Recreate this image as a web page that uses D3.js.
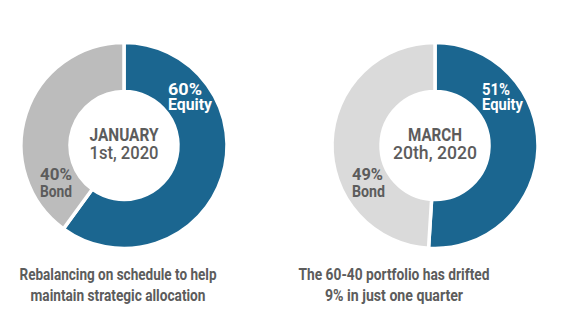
<!DOCTYPE html>
<html>
<head>
<meta charset="utf-8">
<script src="https://cdn.jsdelivr.net/npm/d3@7"></script>
<style>
  html, body { margin: 0; padding: 0; background: #fff; }
  svg { display: block; }
  text { font-family: "Roboto", "DejaVu Sans Condensed", sans-serif; }
</style>
</head>
<body>
<svg id="chart" width="587" height="328"></svg>
<script>
// ---- data ----
const dateLine1 = ["JANUARY", "MARCH"];
const dateLine2 = ["1st, 2020", "20th, 2020"];
const equityPct = [60, 51];
const bondPct = [40, 49];
const sliceNames = ["Equity", "Bond"];
const captionLine1 = ["Rebalancing on schedule to help", "The 60-40 portfolio has drifted"];
const captionLine2 = ["maintain strategic allocation", "9% in just one quarter"];

// ---- layout ----
const svg = d3.select("#chart");
const centers = [[124, 145.5], [435, 145.5]];
const outerR = 103, innerR = 54;
const equityColor = "#1b6690";
const bondColors = ["#bcbcbc", "#dadada"];
const textGray = "#5c5c5c";

const dateW1 = [69, 54], dateW2 = [69, 84];
const pctW = [[34, 32], [28, 31]];
const nameW = [[44, 32], [41, 33]];
const capCenters = [118, 394];
const capW1 = [197, 191], capW2 = [175, 138];

// label offsets from donut centre (x start, baseline of pct line, baseline of name line)
const labelPos = [
  [[44, -50.5, -36], [-84, 34.5, 51.5]],
  [[47, -50.5, -36], [-83, 34.5, 51.5]]
];

const pie = d3.pie().sort(null).value(d => d.v);
const arc = d3.arc().innerRadius(innerR).outerRadius(outerR);

function fit(sel, w) {
  return sel.attr("textLength", w).attr("lengthAdjust", "spacingAndGlyphs");
}

centers.forEach((c, i) => {
  const g = svg.append("g").attr("transform", `translate(${c[0]},${c[1]})`);
  const data = [
    { name: sliceNames[0], v: equityPct[i], color: equityColor, txt: "#fff" },
    { name: sliceNames[1], v: bondPct[i], color: bondColors[i], txt: textGray }
  ];
  const arcs = pie(data);
  g.selectAll("path").data(arcs).enter().append("path")
    .attr("d", arc)
    .attr("fill", d => d.data.color)
    .attr("stroke", "#fff")
    .attr("stroke-width", 3.5);

  arcs.forEach((a, k) => {
    const p = labelPos[i][k];
    const t = g.append("g")
      .attr("fill", a.data.txt)
      .attr("font-size", 16)
      .attr("font-weight", 700);
    fit(t.append("text").attr("x", p[0]).attr("y", p[1]).text(a.data.v + "%"), pctW[i][k]);
    fit(t.append("text").attr("x", p[0]).attr("y", p[2]).text(a.data.name), nameW[i][k]);
  });

  const ct = g.append("g")
    .attr("fill", textGray)
    .attr("font-size", 18)
    .attr("font-weight", 700);
  fit(ct.append("text").attr("text-anchor", "middle").attr("x", 0).attr("y", -4.5).text(dateLine1[i]), dateW1[i]);
  fit(ct.append("text").attr("text-anchor", "middle").attr("x", 0).attr("y", 13.5).attr("font-weight", 500).text(dateLine2[i]), dateW2[i]);

  const cap = svg.append("g")
    .attr("fill", textGray)
    .attr("font-size", 16.5)
    .attr("font-weight", 700);
  fit(cap.append("text").attr("text-anchor", "middle").attr("x", capCenters[i]).attr("y", 280).text(captionLine1[i]), capW1[i]);
  fit(cap.append("text").attr("text-anchor", "middle").attr("x", capCenters[i]).attr("y", 301).text(captionLine2[i]), capW2[i]);
});
</script>
</body>
</html>
